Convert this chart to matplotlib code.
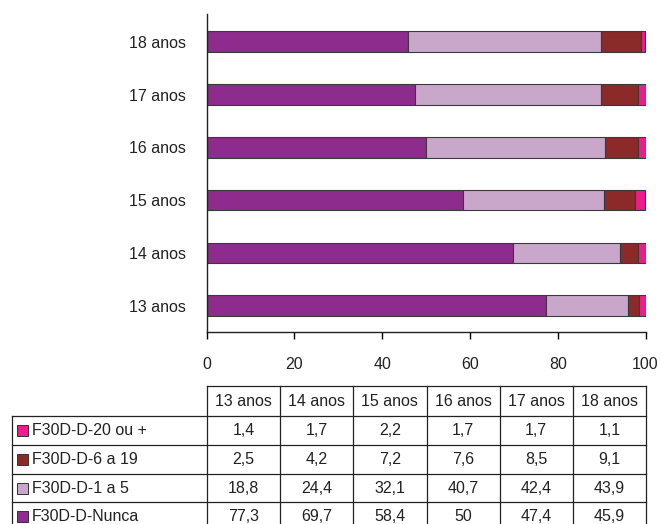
import matplotlib
matplotlib.use("Agg")
import matplotlib.pyplot as plt
from matplotlib.lines import Line2D
from matplotlib.patches import Rectangle

plt.rcParams['font.family'] = ['Liberation Sans', 'DejaVu Sans']

ages = ['13 anos', '14 anos', '15 anos', '16 anos', '17 anos', '18 anos']
series_names = ['F30D-D-Nunca', 'F30D-D-1 a 5', 'F30D-D-6 a 19', 'F30D-D-20 ou +']
nunca = [77.3, 69.7, 58.4, 50, 47.4, 45.9]
um_a_cinco = [18.8, 24.4, 32.1, 40.7, 42.4, 43.9]
seis_a_19 = [2.5, 4.2, 7.2, 7.6, 8.5, 9.1]
vinte_mais = [1.4, 1.7, 2.2, 1.7, 1.7, 1.1]
series_values = [nunca, um_a_cinco, seis_a_19, vinte_mais]
colors = ['#8D2C8C', '#C9A7CA', '#8B2A28', '#EC1C8C']
xticks = [0, 20, 40, 60, 80, 100]

W, H = 661, 524
FS = 11.5
fig = plt.figure(figsize=(W / 100, H / 100), dpi=100)


def fx(px):
    return px / W


def fy(py):
    return 1 - py / H


ax_l, ax_r, ax_t, ax_b = 206.7, 645.5, 14.3, 332.2
ax = fig.add_axes([fx(ax_l), fy(ax_b), fx(ax_r) - fx(ax_l), fy(ax_t) - fy(ax_b)])

ypos = list(range(len(ages)))
left = [0.0] * len(ages)
for name, vals, c in zip(series_names, series_values, colors):
    ax.barh(ypos, vals, left=left, height=0.39, color=c,
            edgecolor='#3a3a3a', linewidth=0.8, label=name)
    left = [l + v for l, v in zip(left, vals)]

ax.set_xlim(0, 100)
ax.set_ylim(-0.5, 5.52)
ax.set_xticks(xticks)
ax.set_xticklabels([str(t) for t in xticks], fontsize=FS, color='#222222')
ax.set_yticks(ypos)
ax.set_yticklabels(ages, fontsize=FS, color='#222222')
ax.tick_params(axis='y', length=0, pad=15)
ax.tick_params(axis='x', length=5, width=1, direction='out', pad=13)
for s in ['top', 'right']:
    ax.spines[s].set_visible(False)
for s in ['left', 'bottom']:
    ax.spines[s].set_linewidth(1)
    ax.spines[s].set_color('#222222')

# data table below the chart
col_edges = [207 + i * (646 - 207) / 6 for i in range(7)]
label_left = 12.3
header_top = 386
row_edges = [416, 445.3, 474, 502.3, 530.6]
lc = '#222222'
lw = 0.9


def hline(x0, x1, y):
    fig.add_artist(Line2D([fx(x0), fx(x1)], [fy(y), fy(y)], color=lc, lw=lw,
                          transform=fig.transFigure))


def vline(x, y0, y1):
    fig.add_artist(Line2D([fx(x), fx(x)], [fy(y0), fy(y1)], color=lc, lw=lw,
                          transform=fig.transFigure))


hline(col_edges[0], col_edges[-1], header_top)
for y in row_edges:
    hline(label_left, col_edges[-1], y)
for x in col_edges:
    vline(x, header_top, H + 5)
vline(label_left, row_edges[0], H + 5)

for i, a in enumerate(ages):
    cx = (col_edges[i] + col_edges[i + 1]) / 2
    fig.text(fx(cx), fy((header_top + row_edges[0]) / 2), a, ha='center',
             va='center', fontsize=FS, color='#222222')

table_order = [3, 2, 1, 0]
for r, si in enumerate(table_order):
    cy = (row_edges[r] + row_edges[r + 1]) / 2
    fig.add_artist(Rectangle((fx(16.5), fy(cy + 5.5)), fx(11), 11 / H,
                             facecolor=colors[si], edgecolor='#333333',
                             linewidth=0.7, transform=fig.transFigure))
    fig.text(fx(32), fy(cy), series_names[si], ha='left', va='center',
             fontsize=FS, color='#222222')
    for i in range(len(ages)):
        cx = (col_edges[i] + col_edges[i + 1]) / 2
        v = series_values[si][i]
        txt = (f'{v:g}').replace('.', ',')
        fig.text(fx(cx), fy(cy), txt, ha='center', va='center',
                 fontsize=FS, color='#222222')

fig.savefig('out.png', dpi=100)
